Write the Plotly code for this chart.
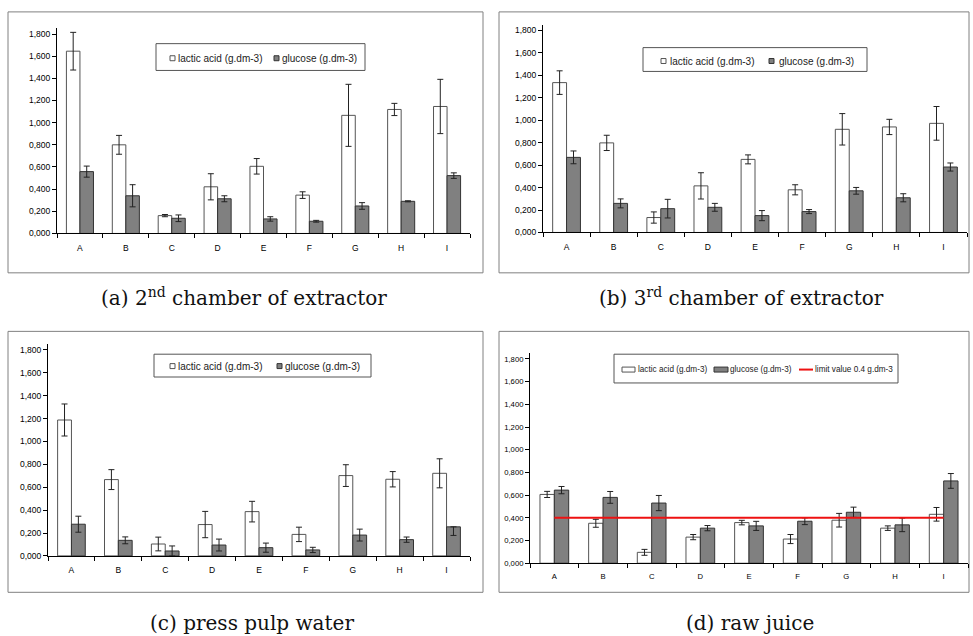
import plotly.graph_objects as go

categories = ["A", "B", "C", "D", "E", "F", "G", "H", "I"]

# (a) 2nd chamber of extractor
a_lactic = [1.645, 0.800, 0.161, 0.421, 0.606, 0.346, 1.066, 1.119, 1.146]
a_lactic_err = [0.170, 0.085, 0.010, 0.118, 0.070, 0.030, 0.280, 0.055, 0.245]
a_glucose = [0.558, 0.340, 0.137, 0.313, 0.131, 0.110, 0.248, 0.290, 0.522]
a_glucose_err = [0.050, 0.100, 0.030, 0.027, 0.020, 0.008, 0.030, 0.005, 0.025]

# (b) 3rd chamber of extractor
b_lactic = [1.335, 0.798, 0.133, 0.415, 0.651, 0.380, 0.919, 0.940, 0.972]
b_lactic_err = [0.105, 0.068, 0.050, 0.117, 0.040, 0.045, 0.140, 0.068, 0.150]
b_glucose = [0.669, 0.259, 0.212, 0.224, 0.150, 0.186, 0.371, 0.309, 0.583]
b_glucose_err = [0.057, 0.040, 0.083, 0.035, 0.045, 0.018, 0.030, 0.036, 0.036]

# (c) press pulp water
c_lactic = [1.188, 0.667, 0.104, 0.274, 0.387, 0.188, 0.702, 0.670, 0.722]
c_lactic_err = [0.140, 0.087, 0.060, 0.115, 0.090, 0.063, 0.095, 0.067, 0.127]
c_glucose = [0.277, 0.136, 0.043, 0.095, 0.072, 0.052, 0.182, 0.142, 0.254]
c_glucose_err_plus = [0.070, 0.030, 0.044, 0.052, 0.040, 0.023, 0.052, 0.023, 0.000]
c_glucose_err_minus = [0.070, 0.030, 0.044, 0.052, 0.040, 0.023, 0.052, 0.023, 0.075]

# (d) raw juice
d_lactic = [0.606, 0.352, 0.096, 0.230, 0.358, 0.213, 0.379, 0.309, 0.431]
d_lactic_err = [0.027, 0.035, 0.026, 0.023, 0.020, 0.040, 0.060, 0.020, 0.060]
d_glucose = [0.644, 0.580, 0.530, 0.309, 0.329, 0.370, 0.449, 0.338, 0.725]
d_glucose_err = [0.032, 0.052, 0.067, 0.023, 0.040, 0.030, 0.045, 0.060, 0.065]
limit_value = [0.4] * 9

series_names = ["lactic acid (g.dm-3)", "glucose (g.dm-3)", "limit value 0.4 g.dm-3"]
captions = ["(a) 2<sup>nd</sup> chamber of extractor", "(b) 3<sup>rd</sup> chamber of extractor",
            "(c) press pulp water", "(d) raw juice"]
y_tick_values = [0.0, 0.2, 0.4, 0.6, 0.8, 1.0, 1.2, 1.4, 1.6, 1.8]

W, H = 973, 636
LACTIC_FILL, LACTIC_LINE = "white", "#555555"
GLUCOSE_FILL, GLUCOSE_LINE = "#808080", "#333333"
LIMIT_COLOR = "#ee1111"


def px_x(v):
    return v / W


def px_y(v):
    return 1 - v / H


# layout geometry in pixels
panels = [
    dict(x=(57, 470), y=(28.7, 235.3), box=(8, 12, 483, 275), cap=(244, 299), fs=8.5,
         leg_box=(156, 44, 365, 71), leg_y=58.7, lfs=10,
         leg_items=[("sq", 170, 175, 177, 0), ("sq", 274, 279, 281, 1)]),
    dict(x=(543, 967), y=(25, 234.3), box=(499, 12, 969, 275), cap=(741, 299), fs=8.5,
         leg_box=(643, 48, 867, 72), leg_y=61.5, lfs=10,
         leg_items=[("sq", 661, 666, 669, 0), ("sq", 769, 774, 778, 1)]),
    dict(x=(48, 470), y=(347, 560.3), box=(8, 334, 483, 597), cap=(252, 628), fs=8.5,
         leg_box=(154, 357, 371, 380), leg_y=369, lfs=10,
         leg_items=[("sq", 170, 175, 177, 0), ("sq", 277, 282, 284, 1)]),
    dict(x=(530, 968), y=(356, 567.7), box=(499, 334, 969, 597), cap=(750, 628), fs=7.7,
         leg_box=(614, 357, 898, 386), leg_y=372.5, lfs=8.2,
         leg_items=[("rect", 622, 635, 637, 0), ("rect", 714, 728, 729, 1), ("line", 799, 813, 814, 2)]),
]

data = [
    (a_lactic, a_lactic_err, a_lactic_err, a_glucose, a_glucose_err, a_glucose_err),
    (b_lactic, b_lactic_err, b_lactic_err, b_glucose, b_glucose_err, b_glucose_err),
    (c_lactic, c_lactic_err, c_lactic_err, c_glucose, c_glucose_err_plus, c_glucose_err_minus),
    (d_lactic, d_lactic_err, d_lactic_err, d_glucose, d_glucose_err, d_glucose_err),
]

fig = go.Figure()
font_sans = "Liberation Sans, Arial, sans-serif"

for i, (p, d) in enumerate(zip(panels, data)):
    n = "" if i == 0 else str(i + 1)
    lac, lac_ep, lac_em, glu, glu_ep, glu_em = d
    fig.add_trace(go.Bar(
        x=categories, y=lac, name=series_names[0], xaxis="x" + n, yaxis="y" + n, showlegend=False,
        marker=dict(color=LACTIC_FILL, line=dict(color=LACTIC_LINE, width=1)),
        error_y=dict(type="data", array=lac_ep, arrayminus=lac_em, symmetric=False,
                     color="#222222", thickness=1, width=3),
    ))
    fig.add_trace(go.Bar(
        x=categories, y=glu, name=series_names[1], xaxis="x" + n, yaxis="y" + n, showlegend=False,
        marker=dict(color=GLUCOSE_FILL, line=dict(color=GLUCOSE_LINE, width=1)),
        error_y=dict(type="data", array=glu_ep, arrayminus=glu_em, symmetric=False,
                     color="#222222", thickness=1, width=3),
    ))
    if i == 3:
        fig.add_trace(go.Scatter(
            x=categories, y=limit_value, name=series_names[2], xaxis="x" + n, yaxis="y" + n,
            showlegend=False, mode="lines", line=dict(color=LIMIT_COLOR, width=2),
        ))

    fig.update_layout(**{
        "xaxis" + n: dict(
            domain=[px_x(p["x"][0]), px_x(p["x"][1])], anchor="y" + n,
            showline=True, linecolor="black", linewidth=1, ticks="outside", tickson="boundaries",
            ticklen=4, tickcolor="black", showgrid=False, zeroline=False, ticklabelstandoff=6,
            tickfont=dict(family=font_sans, size=p["fs"], color="black"),
        ),
        "yaxis" + n: dict(
            domain=[px_y(p["y"][1]), px_y(p["y"][0])], anchor="x" + n, range=[0, 1.85],
            showline=True, linecolor="black", linewidth=1, ticks="outside", ticklen=4,
            tickcolor="black", showgrid=False, zeroline=False,
            tickvals=y_tick_values, tickformat=".3f",
            tickfont=dict(family=font_sans, size=p["fs"], color="black"),
        ),
    })

    # panel frame
    fig.add_shape(type="rect", xref="paper", yref="paper",
                  x0=px_x(p["box"][0]), y0=px_y(p["box"][1]), x1=px_x(p["box"][2]), y1=px_y(p["box"][3]),
                  line=dict(color="#808080", width=1), layer="below")

    # legend frame
    lb = p["leg_box"]
    fig.add_shape(type="rect", xref="paper", yref="paper",
                  x0=px_x(lb[0]), y0=px_y(lb[1]), x1=px_x(lb[2]), y1=px_y(lb[3]),
                  line=dict(color="#555555", width=1), fillcolor="white", layer="above")
    ly = p["leg_y"]
    for kind, sx0, sx1, tx, si in p["leg_items"]:
        fill = [LACTIC_FILL, GLUCOSE_FILL, LIMIT_COLOR][si]
        edge = [LACTIC_LINE, GLUCOSE_LINE, LIMIT_COLOR][si]
        if kind == "sq":
            h = (sx1 - sx0) / 2
            fig.add_shape(type="rect", xref="paper", yref="paper",
                          x0=px_x(sx0), x1=px_x(sx1), y0=px_y(ly + h), y1=px_y(ly - h),
                          line=dict(color=edge, width=1), fillcolor=fill, layer="above")
        elif kind == "rect":
            fig.add_shape(type="rect", xref="paper", yref="paper",
                          x0=px_x(sx0), x1=px_x(sx1), y0=px_y(ly + 2.5), y1=px_y(ly - 2.5),
                          line=dict(color=edge, width=1), fillcolor=fill, layer="above")
        else:
            fig.add_shape(type="line", xref="paper", yref="paper",
                          x0=px_x(sx0), x1=px_x(sx1), y0=px_y(ly), y1=px_y(ly),
                          line=dict(color=fill, width=2), layer="above")
        fig.add_annotation(text=series_names[si], xref="paper", yref="paper",
                           x=px_x(tx), y=px_y(ly), xanchor="left", yanchor="middle",
                           showarrow=False, borderpad=0,
                           font=dict(family=font_sans, size=p["lfs"], color="#222"))

    fig.add_annotation(text=captions[i], xref="paper", yref="paper",
                       x=px_x(p["cap"][0]), y=px_y(p["cap"][1]), xanchor="center", yanchor="middle",
                       showarrow=False, borderpad=0,
                       font=dict(family="DejaVu Serif, serif", size=20, color="#111"))

fig.update_layout(
    width=W, height=H, margin=dict(l=0, r=0, t=0, b=0),
    paper_bgcolor="white", plot_bgcolor="white",
    barmode="group", bargap=0.41, bargroupgap=0.0,
    separators=",.", showlegend=False,
)

fig.write_html("out.html", config={"displayModeBar": False},
               post_script="document.body.style.margin='0';document.body.style.overflow='hidden';")
